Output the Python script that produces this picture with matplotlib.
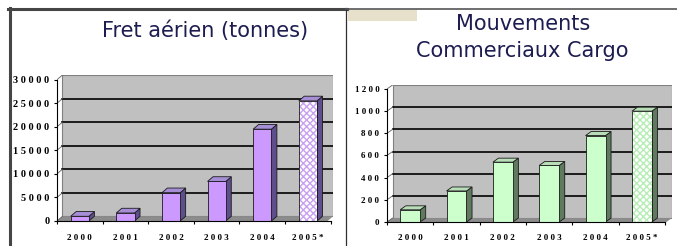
import numpy as np
import matplotlib.pyplot as plt
from matplotlib.patches import Polygon, Rectangle
from matplotlib.lines import Line2D

# donnees
annees = ['2000', '2001', '2002', '2003', '2004', '2005*']
fret = [1000, 1700, 6000, 8400, 19500, 25500]
fret_ticks = [0, 5000, 10000, 15000, 20000, 25000, 30000]
mouvements = [110, 280, 540, 510, 780, 1000]
mouv_ticks = [0, 200, 400, 600, 800, 1000, 1200]

W, H = 677, 246


def spaced(s):
    return ' '.join(s)


def panel(ax, values, ticks, ymax, xmax, dy, front, side, top, hatch_col,
          bw, ylab_size):
    n = len(values)
    dx = 0.12
    ax.set_xlim(-0.5, xmax)
    ax.set_ylim(0, ymax)
    ax.set_facecolor('white')

    # mur du fond + sol
    ax.add_patch(Rectangle((-0.5 + dx, dy), xmax + 0.5 - dx, ticks[-1], facecolor='#c0c0c0',
                           edgecolor='#808080', lw=0.8, zorder=0))
    ax.add_patch(Polygon([(-0.5, 0), (xmax - dx, 0), (xmax, dy), (-0.5 + dx, dy)],
                         facecolor='#8c8c8c', edgecolor='none', zorder=0.5))
    for t in ticks[1:-1]:
        ax.plot([-0.5 + dx, xmax], [t + dy, t + dy], color='black', lw=1.2, zorder=1)
    for t in ticks:
        ax.plot([-0.5, -0.5 + dx], [t, t + dy], color='#606060', lw=0.6, zorder=1)

    x = np.arange(n)
    for i, v in enumerate(values):
        h = v
        xl, xr = x[i] - bw / 2, x[i] + bw / 2
        ax.add_patch(Polygon([(xr, 0), (xr + dx, dy), (xr + dx, h + dy), (xr, h)],
                             facecolor=side, edgecolor='#1a1a1a', lw=0.6, zorder=3))
        ax.add_patch(Polygon([(xl, h), (xl + dx, h + dy), (xr + dx, h + dy), (xr, h)],
                             facecolor=top, edgecolor='#1a1a1a', lw=0.6, zorder=3))
        if i == n - 1:
            ax.bar(x[i], h, width=bw, color='white', edgecolor=hatch_col, hatch='xxxxx',
                   lw=0, zorder=3)
            ax.bar(x[i], h, width=bw, color='none', edgecolor='#1a1a1a', lw=0.6, zorder=4)
        else:
            ax.bar(x[i], h, width=bw, color=front, edgecolor='#1a1a1a', lw=0.6, zorder=3)

    for s in ['top', 'right']:
        ax.spines[s].set_visible(False)
    ax.spines['left'].set_color('black')
    ax.spines['bottom'].set_color('black')
    ax.spines['bottom'].set_bounds(-0.5, n - 0.5)
    ax.spines['left'].set_bounds(0, ticks[-1])
    ax.spines['left'].set_zorder(5)
    ax.spines['bottom'].set_zorder(5)

    ax.set_yticks(ticks)
    ax.set_yticklabels([spaced(str(t)) for t in ticks], fontsize=ylab_size,
                       fontweight='bold', family='Liberation Serif')
    ax.set_xticks(np.arange(n + 1) - 0.5)
    ax.set_xticklabels([])
    ax.set_xticks(x, minor=True)
    ax.set_xticklabels([spaced(a) for a in annees], minor=True, fontsize=6.5,
                       fontweight='bold', family='Liberation Serif')
    ax.tick_params(axis='x', which='major', length=2.5, direction='out')
    ax.tick_params(axis='x', which='minor', length=0, pad=9)
    ax.tick_params(axis='y', length=2.5, pad=3)


fig = plt.figure(figsize=(W / 100, H / 100), dpi=100)

ax1 = fig.add_axes([57 / W, 1 - 221 / H, 276 / W, 146 / H])
panel(ax1, fret, fret_ticks, 31000, 5.55, 1000, '#cc99ff', '#5e4e8c', '#a68ed6',
      '#c9a0f0', 0.4, 7.5)

ax2 = fig.add_axes([387 / W, 1 - 222 / H, 285 / W, 137 / H])
panel(ax2, mouvements, mouv_ticks, 1236, 5.65, 36, '#ccffcc', '#5f7a5f', '#b8deb8',
      '#b5eeb5', 0.43, 6.5)

title_col = '#1c1c50'
fig.text(205 / W, 1 - 31 / H, 'Fret aérien (tonnes)', ha='center', va='center',
         fontsize=15, color=title_col, family='DejaVu Sans')
fig.text(523 / W, 1 - 24 / H, 'Mouvements', ha='center', va='center',
         fontsize=15, color=title_col, family='DejaVu Sans')
fig.text(522 / W, 1 - 51 / H, 'Commerciaux Cargo', ha='center', va='center',
         fontsize=15, color=title_col, family='DejaVu Sans')

# cadres
fig.add_artist(Rectangle((348 / W, 1 - 21 / H), 69 / W, 11 / H, transform=fig.transFigure,
                         facecolor='#e7e0ca', edgecolor='none'))
fig.add_artist(Line2D([9.5 / W, 9.5 / W], [0, 1 - 8 / H], transform=fig.transFigure,
                      color='#454545', lw=2.2))
fig.add_artist(Line2D([8 / W, 347 / W], [1 - 8.5 / H, 1 - 8.5 / H], transform=fig.transFigure,
                      color='#454545', lw=2.2))
fig.add_artist(Line2D([346 / W, 346 / W], [0, 1 - 8 / H], transform=fig.transFigure,
                      color='#303030', lw=0.9))
fig.add_artist(Line2D([346 / W, 1], [1 - 8.5 / H, 1 - 8.5 / H], transform=fig.transFigure,
                      color='#555555', lw=1.2))

fig.savefig('out.png', dpi=100)
